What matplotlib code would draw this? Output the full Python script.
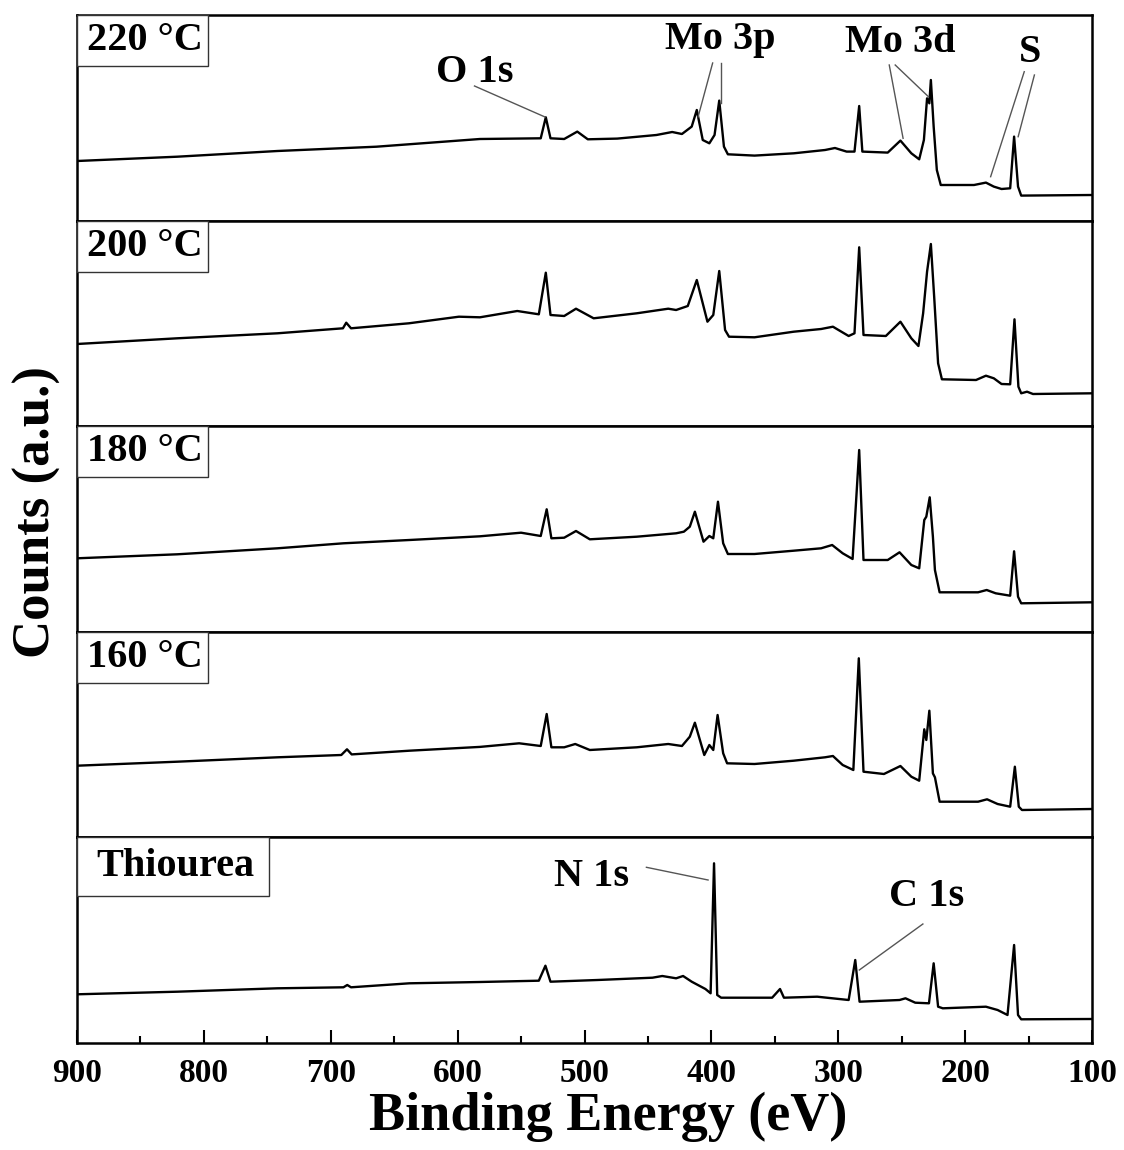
import matplotlib
matplotlib.use("Agg")
import matplotlib.pyplot as plt
from matplotlib.patches import Rectangle

# ---------------- data ----------------
panel_labels = ["220 °C", "200 °C", "180 °C", "160 °C", "Thiourea"]

E_220 = [900, 821, 742, 664, 582.4, 534.5, 530.5, 526.8, 516, 505.7, 497.4, 474.2, 443.3, 430.9,
         423.2, 415.5, 411.5, 406.8, 401.6, 397.5, 393.8, 390.1, 387, 366, 335, 310.4, 302.6, 293.4,
         287.2, 283.5, 281, 261, 251, 242.4, 236.2, 232.5, 230, 228.2, 227, 224.8, 222.3, 219.2,
         193, 183.6, 177.4, 171.3, 164.5, 161.4, 158.3, 155.8, 100]
I_220 = [59.6, 63.9, 69.6, 73.9, 81.6, 82.3, 103.3, 82.3, 81.6, 89, 81.3, 82, 85.6, 88.6,
         86.6, 94, 110.6, 80.6, 77.3, 85.6, 120, 74, 66.3, 65, 67.3, 70.6, 72.6, 69,
         69, 114.6, 69, 68, 80, 67.3, 61.3, 80.6, 122.3, 117.3, 140.6, 94, 50.6, 35.6,
         35.6, 38, 34, 31.6, 32.3, 84, 34, 25, 25.6]

E_200 = [900, 821, 742, 690.4, 687.8, 684, 638.4, 599, 582.4, 553, 536, 530.5, 526.8, 516,
         506.7, 492.8, 458.8, 434, 427.8, 418.6, 411.5, 403.1, 398.5, 393.8, 389.2, 386.1, 366,
         335.1, 313.5, 304.2, 291.8, 287.2, 283.5, 280.1, 262.5, 251, 242.4, 236.8, 233.1, 230,
         227, 224.4, 221.3, 218.3, 191.4, 183.6, 177.4, 171.3, 164.5, 161.1, 158, 155.8, 151.2,
         146.5, 100]
I_200 = [82.2, 87.9, 92.9, 97.9, 103.5, 97.9, 102.9, 109.5, 108.9, 115.2, 111.9, 153.5, 111.2, 110.2,
         117.5, 107.9, 112.9, 117.5, 116.2, 120.2, 146.2, 104.5, 111.2, 155.2, 96.2, 89.5, 88.9,
         94.5, 97.2, 99.5, 90.2, 92.9, 178.9, 91.2, 90.2, 104.5, 87.9, 80.2, 112.9, 154.5,
         182.2, 129.5, 62.9, 46.9, 46.2, 50.5, 47.9, 42.2, 41.9, 106.9, 39.5, 32.9, 34.5,
         32.2, 32.9]

E_180 = [900, 821, 742, 690, 638, 582.4, 550, 534.5, 529.8, 526.1, 516, 506.7, 495.8, 458.8,
         427.8, 421.7, 417, 413, 406.2, 401.6, 398.5, 394.8, 390.7, 387, 366, 335.1, 313.5,
         304.8, 296.5, 288.7, 283.5, 280.1, 261, 251.7, 242.4, 236.2, 232.2, 230.6, 227.9,
         225.4, 223.8, 220.1, 189.8, 183, 175.9, 164.5, 161.4, 158.3, 155.8, 100]
I_180 = [73.5, 77.5, 83.5, 88.5, 91.8, 95.5, 99.1, 95.8, 122.5, 93.5, 94.1, 100.8, 92.5, 95.1,
         98.5, 100.1, 105.1, 120.1, 90.1, 95.8, 93.5, 130.1, 88.5, 77.8, 77.8, 81.1, 83.5,
         86.8, 78.5, 72.8, 181.8, 71.8, 71.8, 79.5, 66.8, 63.5, 111.8, 115.1, 134.5,
         95.1, 61.8, 39.5, 39.5, 41.8, 38.5, 36.1, 80.5, 35.1, 28.5, 29.5]

E_160 = [900, 821, 742, 691.7, 687.2, 683.5, 638, 582.4, 551.5, 534.5, 529.8, 526.1, 516, 507.3,
         495.8, 458.8, 434, 423.2, 417, 413, 405.6, 401.6, 398.5, 395.1, 390.7, 387.6, 366,
         335.1, 310.4, 304.2, 296.5, 288.1, 283.8, 280.1, 264, 251, 242.4, 236.2, 232.2, 230.6,
         228.2, 225.4, 223.8, 220.1, 189.8, 182.7, 174.4, 164.5, 160.8, 157.7, 155.2, 100]
I_160 = [71.7, 75.7, 80.1, 82.4, 88.1, 83, 86.7, 90.5, 94.1, 91.4, 123.4, 90.1, 90.1, 93.4,
         87.4, 90.1, 93.4, 91.4, 100.7, 114.7, 82.4, 92.4, 87.4, 122.4, 84.1, 74.1, 73.4,
         76.7, 80.1, 81.4, 72.4, 67.4, 179.1, 65.7, 63.4, 71.4, 60.7, 56.7, 108.1, 97.4,
         126.7, 64, 60.1, 35.7, 35.7, 38.1, 33.4, 30.7, 70.7, 30.7, 27.4, 28.4]

E_thio = [900, 821, 742, 690, 687, 684, 638, 582.4, 536, 530.8, 526.8, 489.7, 446.4, 438.7,
          427.8, 422.3, 415.5, 404.7, 400.6, 397.9, 395.4, 392.3, 352.1, 345.9, 342.8, 316.6,
          291.8, 286.6, 283.2, 251.7, 247, 239.3, 228.5, 224.8, 221.3, 217.6, 183.6, 174.4,
          166.6, 161.4, 158.3, 155.8, 100]
I_thio = [48.7, 51.3, 54.7, 55.7, 58, 55.7, 59.7, 61, 62.3, 77.3, 61.3, 63, 65.3, 67,
          64.7, 67, 61.3, 54, 49.7, 179.7, 48, 45.3, 45.3, 54, 45.3, 46.3,
          43, 83, 41.3, 43, 44.7, 40.3, 39.7, 79.7, 36.3, 34.7, 36.3, 33,
          28, 98, 28, 23.7, 24]

energies = [E_220, E_200, E_180, E_160, E_thio]
counts = [I_220, I_200, I_180, I_160, I_thio]

x_ticks = [900, 800, 700, 600, 500, 400, 300, 200, 100]

# peak annotations: (panel, text, text position, list of line segments)
annotations = [
    (0, "O 1s", (586.3, 148.6), [((586.7, 134.6), (531.1, 103.6))]),
    (0, "Mo 3p", (393.2, 180.6), [((399.0, 157.6), (410.5, 103.6)),
                                  ((392.4, 157.6), (392.4, 117.6))]),
    (0, "Mo 3d", (251.4, 177.6), [((259.8, 155.6), (248.9, 82.3)),
                                  ((255.1, 155.6), (228.9, 123.9))]),
    (0, "S", (148.9, 168.6), [((153.4, 148.9), (179.9, 43.9)),
                              ((145.4, 145.6), (158.2, 83.9))]),
    (4, "N 1s", (494.1, 166.0), [((451.2, 175.7), (402.6, 163.0))]),
    (4, "C 1s", (230.1, 146.0), [((233.3, 119.0), (283.4, 73.0))]),
]

# ---------------- figure ----------------
plt.rcParams['font.family'] = ['Liberation Serif', 'DejaVu Serif']
plt.rcParams['font.weight'] = 'bold'

W, H = 1124, 1150
fig = plt.figure(figsize=(W / 100, H / 100), dpi=100)

ax_left, ax_right = 77, 1092
ax_top, ax_bot = 15, 1043
n = 5
ph = (ax_bot - ax_top) / n
ymax = ph

axes = []
for i in range(n):
    top_px = ax_top + i * ph
    ax = fig.add_axes([ax_left / W, 1 - (top_px + ph) / H, (ax_right - ax_left) / W, ph / H])
    axes.append(ax)
    ax.plot(energies[i], counts[i], color='black', lw=1.7)
    ax.set_xlim(900, 100)
    ax.set_ylim(0, ymax)
    ax.set_yticks([])
    for s in ax.spines.values():
        s.set_linewidth(1.8)
    if i < n - 1:
        ax.tick_params(axis='x', bottom=False, labelbottom=False)
    else:
        ax.set_xticks(x_ticks)
        ax.set_xticks([850, 750, 650, 550, 450, 350, 250, 150], minor=True)
        ax.tick_params(axis='x', which='major', direction='in', length=9.5, width=1.5,
                       labelsize=24, pad=11)
        ax.tick_params(axis='x', which='minor', direction='in', length=5, width=1.5)
        for lab in ax.get_xticklabels():
            lab.set_fontweight('bold')

    # label box
    if panel_labels[i] == "Thiourea":
        bw, bh = 192, 59
    else:
        bw, bh = 131, 51
    axw = ax_right - ax_left
    rect = Rectangle((0, 1 - bh / ph), bw / axw, bh / ph, transform=ax.transAxes,
                     facecolor='white', edgecolor='#333333', lw=1.0, zorder=5)
    ax.add_patch(rect)
    ax.text(bw / axw / 2 + 0.002, 1 - bh / ph / 2, panel_labels[i], transform=ax.transAxes,
            ha='center', va='center', fontsize=29, fontweight='bold', zorder=6)

for (pi, txt, tpos, segs) in annotations:
    ax = axes[pi]
    ax.text(tpos[0], tpos[1], txt, ha='center', va='center', fontsize=29, fontweight='bold')
    for (p0, p1) in segs:
        ax.plot([p0[0], p1[0]], [p0[1], p1[1]], color='#555555', lw=1.0)

fig.text(608 / W, 1 - 1117 / H, "Binding Energy (eV)", ha='center', va='center',
         fontsize=39, fontweight='bold')
fig.text(37 / W, 1 - 512 / H, "Counts (a.u.)", rotation=90, ha='center', va='center',
         fontsize=38, fontweight='bold')

fig.savefig("out.png", dpi=100)
